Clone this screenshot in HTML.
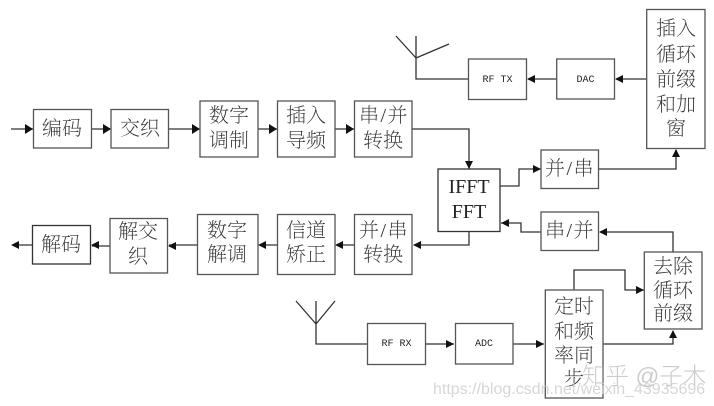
<!DOCTYPE html>
<html><head><meta charset="utf-8"><style>
html,body{margin:0;padding:0;background:#fff}
svg{display:block}
.b{fill:#fff;stroke:#555;stroke-width:1.3}
.l{fill:none;stroke:#333;stroke-width:1.3}
.a{fill:#111}
.t{font-family:"Liberation Serif","Noto Serif CJK SC",serif;font-size:20px;font-weight:200;fill:#333;text-anchor:middle}
.s{letter-spacing:1.5px}
.m{font-family:"Liberation Mono",monospace;font-size:10px;fill:#222;text-anchor:middle}
.e{font-family:"Liberation Serif",serif;font-size:20px;fill:#222;text-anchor:middle}
</style></head><body>
<svg width="714" height="406" viewBox="0 0 714 406" xmlns="http://www.w3.org/2000/svg">
<g class="l">
<path d="M11 129H33M91 129H111M168 129H200M258 129H277M335 129H354"/>
<path d="M412 129H469V169"/>
<path d="M500 186H519V169H541"/>
<path d="M598 169H676V150"/>
<path d="M647 79H616M557 79H528"/>
<path d="M416 36V79H468M396 36L416 58M449 44L416 58"/>
<path d="M541 232H521V223H501"/>
<path d="M673 252V232H600"/>
<path d="M469 232V245H414"/>
<path d="M354 245H337M277 245H260M197 245H169M110 246H92M32 245H13"/>
<path d="M316 301V344H367M296 301L316 324M335 301L316 324"/>
<path d="M425 344H454M513 344H544"/>
<path d="M574 290V270H625V290H644"/>
<path d="M603 344H673V331"/>
</g>
<g class="a">
<path d="M33 129L25 124V134Z"/><path d="M111 129L103 124V134Z"/><path d="M200 129L192 124V134Z"/><path d="M277 129L269 124V134Z"/><path d="M354 129L346 124V134Z"/>
<path d="M469 169L465 161H473Z"/>
<path d="M541 169L533 165V173Z"/>
<path d="M676 149L672 157H680Z"/>
<path d="M615 79L623 75V83Z"/><path d="M527 79L535 75V83Z"/>
<path d="M501 223L509 219V227Z"/>
<path d="M599 232L607 228V236Z"/>
<path d="M413 245L421 241V249Z"/><path d="M335 245L343 241V249Z"/><path d="M258 245L266 241V249Z"/><path d="M168 246L176 242V250Z"/><path d="M91 245L99 241V249Z"/><path d="M11 245L19 241V249Z"/>
<path d="M454 344L446 340V348Z"/><path d="M544 344L536 340V348Z"/>
<path d="M644 290L636 286V294Z"/>
<path d="M673 330L669 338H677Z"/>
</g>
<g class="b">
<rect x="33.5" y="109.5" width="58" height="38.5"/>
<rect x="111" y="109.5" width="57.5" height="38.5"/>
<rect x="200" y="101" width="58" height="56"/>
<rect x="277.5" y="101" width="57.5" height="56"/>
<rect x="354.5" y="101" width="57.5" height="56"/>
<rect x="646.7" y="9.5" width="58.3" height="139"/>
<rect x="556.7" y="59" width="57.8" height="40"/>
<rect x="468.5" y="59" width="58" height="40.5"/>
<rect x="438" y="169" width="62" height="62.5" style="stroke:#333"/>
<rect x="541" y="150" width="57.5" height="38.5"/>
<rect x="541" y="212" width="57.5" height="38.5"/>
<rect x="644.3" y="252" width="57.7" height="77"/>
<rect x="545.3" y="290" width="57.7" height="108"/>
<rect x="367.5" y="323.5" width="58" height="41"/>
<rect x="455.5" y="323.5" width="57.5" height="40.5"/>
<rect x="32.5" y="225.5" width="58" height="38.5" style="stroke:#333"/>
<rect x="110" y="218.5" width="57.5" height="54.5"/>
<rect x="197.5" y="214.5" width="60.5" height="60"/>
<rect x="277.5" y="214.5" width="57.5" height="60"/>
<rect x="354.5" y="214.5" width="57.5" height="60"/>
</g>
<g class="t">
<text x="62" y="135">编码</text>
<text x="140" y="135">交织</text>
<text x="229" y="122">数字</text><text x="229" y="147">调制</text>
<text x="306" y="122">插入</text><text x="306" y="147">导频</text>
<text class="s" x="384" y="122">串/并</text><text x="383" y="147">转换</text>
<text x="676" y="35">插入</text><text x="676" y="61">循环</text><text x="676" y="86">前缀</text><text x="676" y="111">和加</text><text x="676" y="135">窗</text>
<text class="s" x="570" y="175">并/串</text>
<text class="s" x="570" y="237">串/并</text>
<text x="61" y="251">解码</text>
<text x="138" y="238">解交</text><text x="138" y="263">织</text>
<text x="227" y="237">数字</text><text x="227" y="261">解调</text>
<text x="306" y="237">信道</text><text x="306" y="261">矫正</text>
<text class="s" x="384" y="237">并/串</text><text x="383" y="261">转换</text>
<text x="673" y="273">去除</text><text x="673" y="297">循环</text><text x="673" y="320">前缀</text>
<text x="574" y="313">定时</text><text x="574" y="338">和频</text><text x="574" y="362">率同</text><text x="574" y="385">步</text>
</g>
<text class="e" x="469" y="193">IFFT</text>
<text class="e" x="469" y="218">FFT</text>
<g class="m">
<text x="497.5" y="82">RF TX</text>
<text x="585.5" y="82">DAC</text>
<text x="396.5" y="346">RF RX</text>
<text x="484" y="346">ADC</text>
</g>
<text x="582" y="384" style="font-family:'Liberation Sans','Noto Sans CJK SC',sans-serif;font-size:23.5px;font-weight:300;fill:#aaa;opacity:.6">知乎 @子木</text>
<text x="433" y="394" style="font-family:'Liberation Sans',sans-serif;font-size:16px;fill:#ccc;opacity:.8">https://blog.csdn.net/weixin_43935696</text>
</svg>
</body></html>
